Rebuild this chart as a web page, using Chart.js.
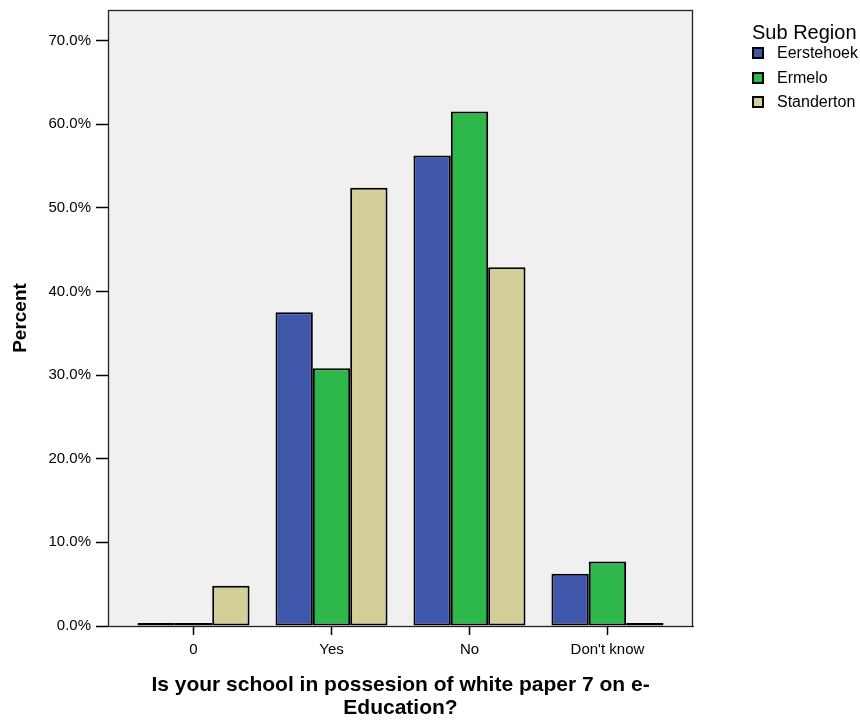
<!DOCTYPE html>
<html>
<head>
<meta charset="utf-8">
<title>White paper 7 by sub region</title>
<script src="https://cdn.jsdelivr.net/npm/chart.js@4.4.1/dist/chart.umd.min.js"></script>
<style>
  html, body { margin: 0; padding: 0; background: #fff; }
  #wrap { position: relative; width: 860px; height: 722px; }
  #legend {
    position: absolute; left: 752px; top: 21px;
    font-family: 'Liberation Sans', Arial, sans-serif; color: #000;
  }
  #legend .title { font-size: 20px; line-height: 22px; margin-bottom: -2px; white-space: nowrap; }
  #legend .item { font-size: 16px; line-height: 24.5px; height: 24.5px; white-space: nowrap; }
  #legend .box {
    display: inline-block; width: 8px; height: 8px; border: 2px solid #000;
    margin-right: 13px; vertical-align: -1px;
  }
</style>
</head>
<body>
<div id="wrap">
  <canvas id="barChart" width="860" height="722"></canvas>
  <div id="legend"></div>
</div>
<script>
const categories = ['0', 'Yes', 'No', "Don't know"];
const eerstehoek = [0, 37.5, 56.25, 6.25];
const ermelo = [0, 30.8, 61.5, 7.7];
const standerton = [4.8, 52.4, 42.9, 0];
const yTicks = [0, 10, 20, 30, 40, 50, 60, 70];
const seriesNames = ['Eerstehoek', 'Ermelo', 'Standerton'];
const seriesColors = ['#3E57AA', '#2EB74A', '#D3CF99'];

const FONT = "'Liberation Sans', Arial, sans-serif";

// grey plot background + frame like the SPSS output
const framePlugin = {
    id: 'frame',
    afterLayout(chart) {
        // SPSS leaves a bit more than half a category at each end
        const x = chart.scales.x;
        x._startValue = -0.62;
        x._valueRange = categories.length - 1 + 1.24;
    },
    beforeDraw(chart) {
        const a = chart.chartArea;
        const ctx = chart.ctx;
        ctx.save();
        ctx.fillStyle = '#F0F0F0';
        ctx.fillRect(a.left, a.top, a.right - a.left, a.bottom - a.top);
        ctx.restore();
    },
    afterDatasetsDraw(chart) {
        const a = chart.chartArea;
        const ctx = chart.ctx;
        ctx.save();
        ctx.strokeStyle = '#222';
        ctx.lineWidth = 1.3;
        ctx.strokeRect(a.left + 0.5, a.top + 0.5, a.right - a.left - 1, a.bottom - a.top);
        ctx.restore();
    }
};

const datasets = [eerstehoek, ermelo, standerton].map((vals, i) => ({
    label: seriesNames[i],
    data: vals,
    backgroundColor: seriesColors[i],
    borderColor: '#000',
    borderWidth: 2,
    borderSkipped: false,
    minBarLength: 3,
    categoryPercentage: 0.812,
    barPercentage: 1
}));

new Chart(document.getElementById('barChart'), {
    type: 'bar',
    data: { labels: categories, datasets: datasets },
    options: {
        responsive: false,
        animation: false,
        layout: { padding: { top: 10, right: 167, left: 0, bottom: 0 } },
        plugins: {
            legend: { display: false },
            tooltip: { enabled: false }
        },
        scales: {
            x: {
                grid: { display: true, drawOnChartArea: false, offset: false, tickLength: 9, color: '#000', tickWidth: 1.5 },
                border: { color: '#000', width: 1 },
                ticks: { font: { family: FONT, size: 15 }, color: '#000', padding: 6, maxRotation: 0 },
                title: {
                    display: true,
                    text: ['Is your school in possesion of white paper 7 on e-', 'Education?'],
                    font: { family: FONT, size: 21, weight: 'bold', lineHeight: 1.1 },
                    color: '#000',
                    padding: { top: 0, bottom: 2 }
                },
                afterFit: s => { s.height = 96; }
            },
            y: {
                min: 0,
                max: 73.64,
                afterBuildTicks: s => { s.ticks = yTicks.map(v => ({ value: v })); },
                grid: { drawOnChartArea: false, tickLength: 12, color: '#000', tickWidth: 1.5 },
                border: { color: '#000', width: 1 },
                ticks: {
                    font: { family: FONT, size: 15 },
                    color: '#000',
                    padding: 5,
                    callback: v => v.toFixed(1) + '%'
                },
                title: {
                    display: true,
                    text: 'Percent',
                    font: { family: FONT, size: 19, weight: 'bold' },
                    color: '#000',
                    padding: { top: 9, bottom: 0 }
                },
                afterFit: s => {
                    s.width = 108;
                    s.paddingTop = 0;
                    s.paddingBottom = 0;
                }
            }
        }
    },
    plugins: [framePlugin]
});

// legend as plain html text
const legendEl = document.getElementById('legend');
let html = '<div class="title">Sub Region</div>';
seriesNames.forEach((name, i) => {
    html += '<div class="item"><span class="box" style="background:' + seriesColors[i] + '"></span>' + name + '</div>';
});
legendEl.innerHTML = html;
</script>
</body>
</html>
